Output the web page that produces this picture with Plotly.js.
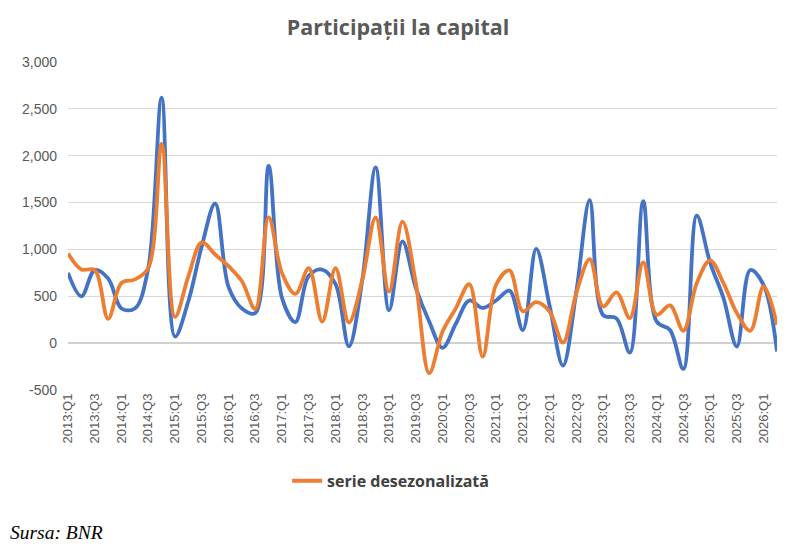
<!DOCTYPE html>
<html>
<head>
<meta charset="utf-8">
<script src="https://cdn.plot.ly/plotly-3.0.1.min.js"></script>
<style>
html,body{margin:0;padding:0;background:#fff;}
#chart{width:800px;height:556px;}
</style>
</head>
<body>
<div id="chart"></div>
<script>
const quarters = [
"2013:Q1","2013:Q2","2013:Q3","2013:Q4",
"2014:Q1","2014:Q2","2014:Q3","2014:Q4",
"2015:Q1","2015:Q2","2015:Q3","2015:Q4",
"2016:Q1","2016:Q2","2016:Q3","2016:Q4",
"2017:Q1","2017:Q2","2017:Q3","2017:Q4",
"2018:Q1","2018:Q2","2018:Q3","2018:Q4",
"2019:Q1","2019:Q2","2019:Q3","2019:Q4",
"2020:Q1","2020:Q2","2020:Q3","2020:Q4",
"2021:Q1","2021:Q2","2021:Q3","2021:Q4",
"2022:Q1","2022:Q2","2022:Q3","2022:Q4",
"2023:Q1","2023:Q2","2023:Q3","2023:Q4",
"2024:Q1","2024:Q2","2024:Q3","2024:Q4",
"2025:Q1","2025:Q2","2025:Q3","2025:Q4",
"2026:Q1","2026:Q2"
];

const xTickLabels = [
"2013:Q1","2013:Q3","2014:Q1","2014:Q3","2015:Q1","2015:Q3","2016:Q1","2016:Q3",
"2017:Q1","2017:Q3","2018:Q1","2018:Q3","2019:Q1","2019:Q3","2020:Q1","2020:Q3",
"2021:Q1","2021:Q3","2022:Q1","2022:Q3","2023:Q1","2023:Q3","2024:Q1","2024:Q3",
"2025:Q1","2025:Q3","2026:Q1"
];

const seriesBruta = [750,500,780,690,370,370,800,2620,70,450,1035,1490,600,370,320,1890,480,225,720,785,630,-35,675,1875,350,1085,590,230,-50,210,455,375,455,560,140,1005,400,-240,550,1525,300,265,-100,1515,230,140,-275,1360,860,480,-36,780,620,-90];

const serieDesezonalizata = [957,786,780,260,643,680,800,2125,280,714,1075,946,821,660,365,1342,745,525,800,230,800,220,675,1342,550,1296,640,-320,125,374,630,-143,623,776,340,438,338,7,534,897,391,541,267,861,302,402,132,640,883,640,320,132,605,196];

const yTickVals = [-500,0,500,1000,1500,2000,2500,3000];
const yTickText = ["-500","0","500","1,000","1,500","2,000","2,500","3,000"];

const traces = [
  {
    x: quarters, y: seriesBruta, type: 'scatter', mode: 'lines',
    name: 'serie brută', showlegend: false,
    line: {color: '#4472C4', width: 3.8, shape: 'spline', smoothing: 1}
  },
  {
    x: quarters, y: serieDesezonalizata, type: 'scatter', mode: 'lines',
    name: 'serie desezonalizată',
    line: {color: '#ED7D31', width: 3.8, shape: 'spline', smoothing: 1}
  }
];

const layout = {
  width: 800, height: 556,
  margin: {l: 68, r: 23, t: 62, b: 166},
  paper_bgcolor: '#ffffff', plot_bgcolor: '#ffffff',
  title: {
    text: '<b>Participații la capital</b>',
    x: 0.4975, xref: 'container', xanchor: 'center',
    y: 0.951, yref: 'container', yanchor: 'middle',
    font: {family: 'Open Sans, sans-serif', size: 21.5, color: '#595959'}
  },
  xaxis: {
    type: 'category',
    range: [0, 53],
    tickmode: 'array',
    tickvals: xTickLabels,
    ticktext: xTickLabels,
    tickangle: -90,
    showgrid: false,
    showline: false,
    zeroline: false,
    ticks: '',
    tickfont: {family: 'Liberation Sans, Arial, sans-serif', size: 13, color: '#595959'}
  },
  yaxis: {
    range: [-500, 3000],
    tickmode: 'array',
    tickvals: yTickVals,
    ticktext: yTickText,
    showgrid: true,
    gridcolor: '#d9d9d9',
    gridwidth: 1,
    zeroline: true,
    zerolinecolor: '#d0d0d0',
    zerolinewidth: 1.5,
    showline: false,
    ticks: '',
    ticklabelstandoff: 10,
    tickfont: {family: 'Liberation Sans, Arial, sans-serif', size: 14, color: '#595959'}
  },
  showlegend: true,
  legend: {
    orientation: 'h',
    x: 0.455, xanchor: 'center',
    y: -0.277, yanchor: 'middle',
    font: {family: 'Open Sans, sans-serif', size: 16, color: '#404040', weight: 'bold'},
    itemwidth: 30
  },
  annotations: [
    {
      text: '<i>Sursa: BNR</i>',
      xref: 'paper', yref: 'paper',
      x: -0.085, xanchor: 'left',
      y: -0.433, yanchor: 'middle',
      showarrow: false,
      font: {family: 'Liberation Serif, Times New Roman, serif', size: 19.5, color: '#000000'}
    }
  ]
};

Plotly.newPlot('chart', traces, layout, {displayModeBar: false, responsive: false});
</script>
</body>
</html>
